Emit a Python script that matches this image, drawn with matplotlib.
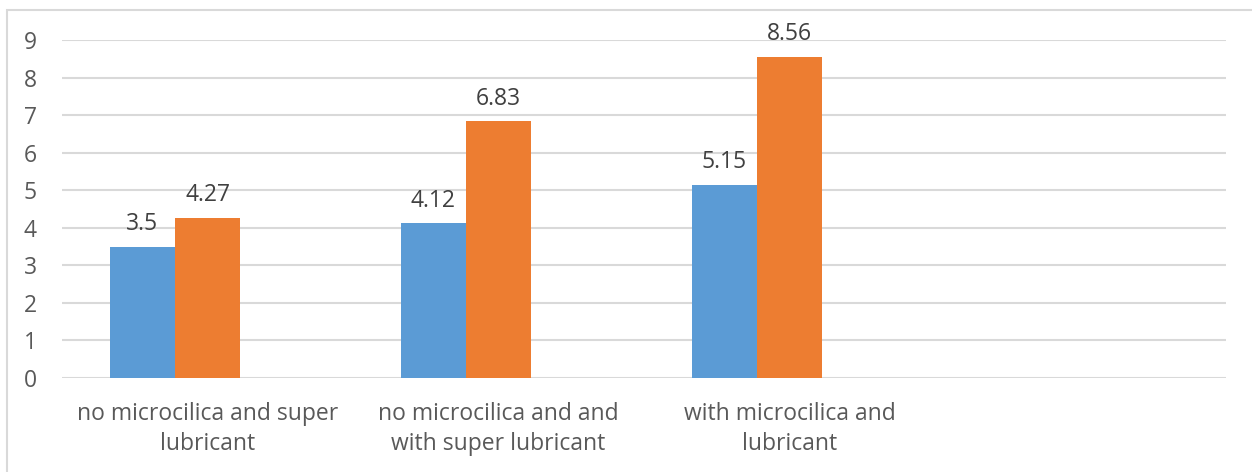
import matplotlib.pyplot as plt
from matplotlib.patches import Rectangle

plt.rcParams['font.family'] = ['Open Sans', 'DejaVu Sans']

categories = ['no microcilica and super\nlubricant',
              'no microcilica and and\nwith super lubricant',
              'with microcilica and\nlubricant',
              '']
series_a = [3.5, 4.12, 5.15]
series_b = [4.27, 6.83, 8.56]

BLUE = '#5B9BD5'
ORANGE = '#ED7D31'
TEXT = '#595959'
FS = 16.5

fig = plt.figure(figsize=(12.52, 4.72), dpi=100)
ax = fig.add_axes([62 / 1252, 1 - 378 / 472, (1226 - 62) / 1252, (378 - 40) / 472])

# outer chart frame (clipped on the right and bottom edges)
fig.patches.append(Rectangle((7 / 1252, -0.05), 1.2, 1 - 10 / 472 + 0.05,
                             transform=fig.transFigure, fill=False,
                             edgecolor='#D9D9D9', linewidth=1.5))

# three bar slots per group; the third series is empty
width = 0.2234
xa = [i - width for i in range(len(series_a))]
xb = [i for i in range(len(series_b))]
ax.bar(xa, series_a, width, color=BLUE, zorder=3)
ax.bar(xb, series_b, width, color=ORANGE, zorder=3)

for x, v in zip(xa, series_a):
    ax.text(x, v + 0.6, f'{v:g}', ha='center', va='center', fontsize=FS, color='#404040')
for x, v in zip(xb, series_b):
    ax.text(x, v + 0.6, f'{v:g}', ha='center', va='center', fontsize=FS, color='#404040')

ax.set_xlim(-0.5, len(categories) - 0.5)
ax.set_ylim(0, 9)
ax.set_yticks(range(10))
ax.set_xticks(range(len(categories)))
ax.set_xticklabels(categories, fontsize=FS, color=TEXT, linespacing=1.38)
ax.tick_params(axis='y', labelsize=FS, labelcolor=TEXT, length=0, pad=18)
ax.tick_params(axis='x', length=0, pad=17)

ax.grid(axis='y', color='#D9D9D9', linewidth=1.5, zorder=0)
for s in ax.spines.values():
    s.set_visible(False)

fig.savefig('out.png', dpi=100)
